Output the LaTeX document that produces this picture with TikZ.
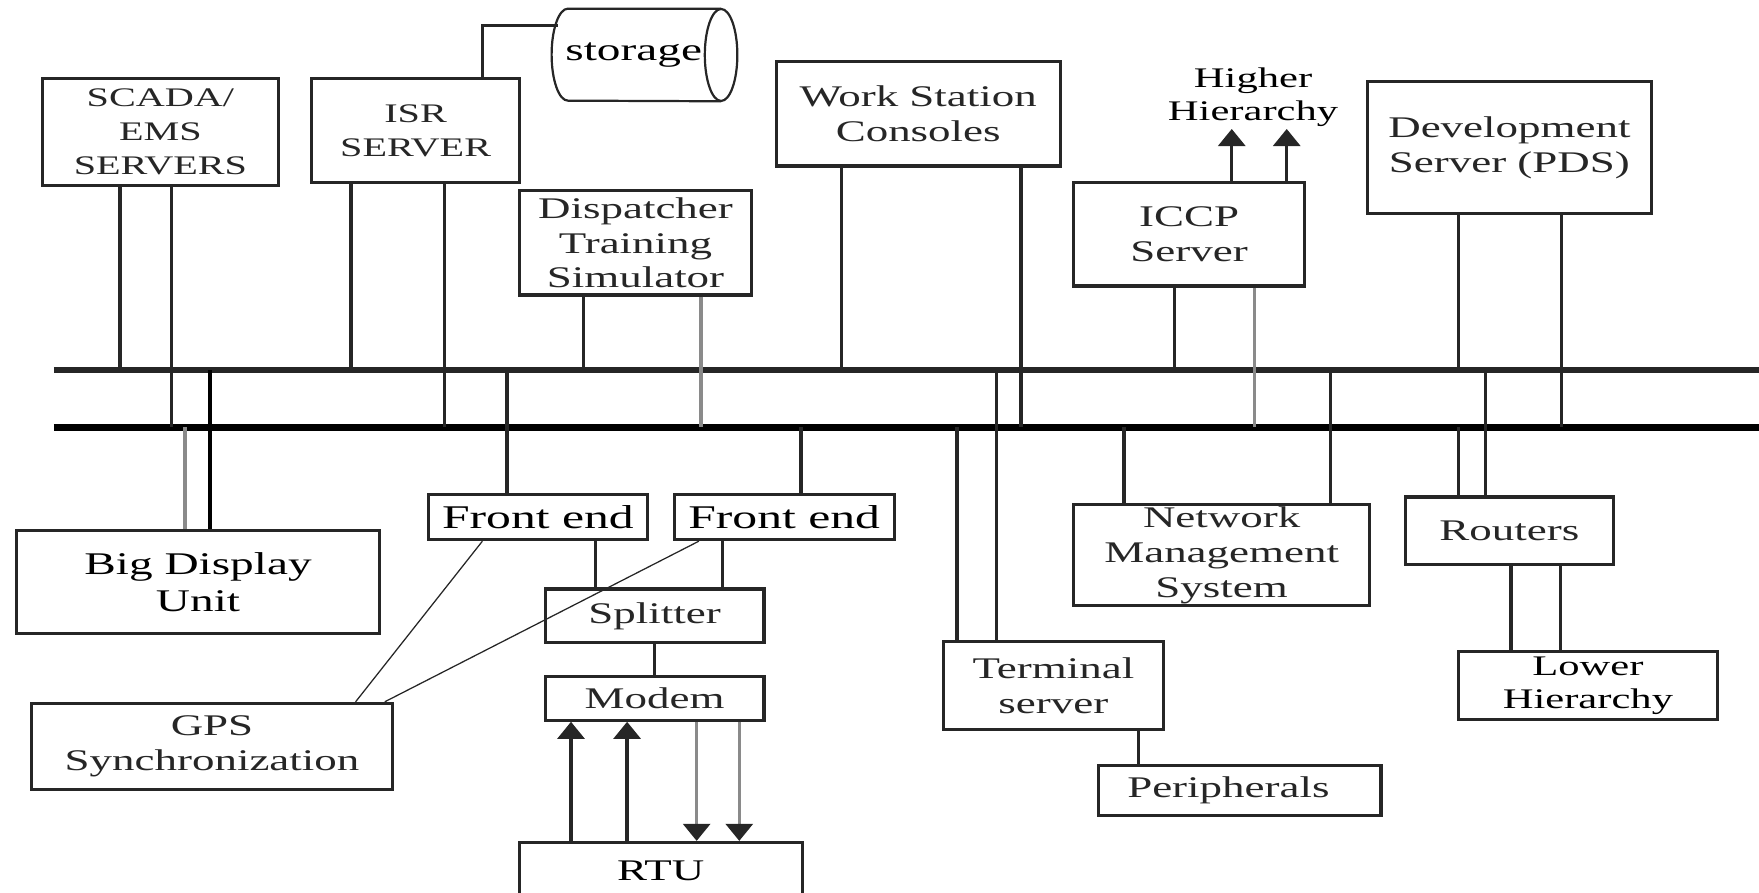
\documentclass[tikz,border=0pt]{standalone}
\usepackage{fontspec}
\setmainfont[FakeStretch=1.5]{Liberation Serif}
\usetikzlibrary{arrows.meta}
\definecolor{ink}{HTML}{262626}
\definecolor{wire}{HTML}{8A8A8A}

\begin{document}
\begin{tikzpicture}[x=0.25mm,y=-0.25mm,
    box/.style={draw=ink, line width=2pt, fill=white, align=center, inner sep=0pt,
        text=ink, font=\fontsize{19}{22}\selectfont},
    capbox/.style={box, font=\fontsize{17}{21.5}\selectfont},
    dark/.style={box, text=black},
    lnk/.style={draw=ink, line width=2.1pt},
    glnk/.style={draw=wire, line width=2.1pt},
    gpslnk/.style={draw=ink, line width=0.8pt},
    cyl/.style={draw=ink, line width=1.4pt},
    bus/.style={draw=black, line width=4pt},
    tip/.style={-{Triangle[width=6mm,length=3.8mm,color=ink]}}]
\useasboundingbox (0,0) rectangle (1568,796);

% boxes above the buses
\node[capbox, minimum width=52.5mm, minimum height=23.75mm] (scada) at (143,117.5) {SCADA/\\EMS\\SERVERS};
\node[capbox, minimum width=46.25mm, minimum height=23.25mm] (isr) at (370.5,116.5) {ISR\\SERVER};
\node[inner sep=0pt, minimum width=41.25mm, minimum height=20.5mm, text=black,
    font=\fontsize{20}{22}\selectfont] (store) at (574.5,49) {storage\hspace*{4.8mm}};
\draw[cyl] ([xshift=-3.625mm]store.east) ellipse [x radius=3.625mm, y radius=10.25mm];
\draw[cyl] ([xshift=-3.625mm]store.north east) -- ([xshift=3.625mm]store.north west)
    arc [start angle=90, end angle=270, x radius=3.625mm, y radius=10.25mm]
    -- ([xshift=-3.625mm]store.south east);
\node[box, minimum width=51.75mm, minimum height=23.25mm] (dts) at (566.5,216.5) {Dispatcher\\Training\\Simulator};
\node[box, minimum width=63.25mm, minimum height=23.25mm] (wsc) at (818.5,101.5) {Work Station\\Consoles};
\node[text=black, align=center, inner sep=1pt, font=\fontsize{18}{21}\selectfont] (hh) at (1117,87) {Higher\\Hierarchy};
\node[box, minimum width=51.5mm, minimum height=23mm] (iccp) at (1060,209) {ICCP\\Server};
\node[box, minimum width=63.25mm, minimum height=29.25mm] (dev) at (1345.5,131.5) {Development\\Server (PDS)};

% boxes below the buses
\node[dark, minimum width=80.75mm, minimum height=23mm, font=\fontsize{20}{23}\selectfont] (bdu) at (176.5,519) {Big Display\\Unit};
\node[dark, minimum width=48.75mm, minimum height=10mm, font=\fontsize{21}{23}\selectfont] (fe1) at (479.5,461) {Front end};
\node[dark, minimum width=49mm, minimum height=10mm, font=\fontsize{21}{23}\selectfont] (fe2) at (699,461) {Front end};
\node[box, minimum width=48.75mm, minimum height=12mm] (split) at (583.5,549) {Splitter};
\node[box, minimum width=48.75mm, minimum height=9.75mm] (modem) at (583.5,622.5) {Modem};
\node[box, minimum width=80.5mm, minimum height=19.25mm] (gps) at (189,665.5) {GPS\\Synchronization};
\node[dark, minimum width=63mm, minimum height=12.5mm] (rtu) at (589,776) {RTU};
\node[box, minimum width=66mm, minimum height=22.5mm] (nms) at (1089,495) {Network\\Management\\System};
\node[box, minimum width=49mm, minimum height=19.5mm] (term) at (939,611) {Terminal\\server};
\node[box, minimum width=63mm, minimum height=11.25mm] (peri) at (1105,704.5) {Peripherals\hspace*{5mm}};
\node[box, minimum width=46.25mm, minimum height=15mm] (rout) at (1345.5,473) {Routers};
\node[dark, minimum width=57.75mm, minimum height=15mm, font=\fontsize{18}{21}\selectfont] (lower) at (1415.5,611) {Lower\\Hierarchy};

% the two buses
\coordinate (busA) at (48,330);
\coordinate (busAe) at (1568,330);
\coordinate (busB) at (48,381);
\coordinate (busBe) at (1568,381);
\draw[bus, draw=ink, line width=3.6pt] (busA) -- (busAe);
\draw[bus, line width=4.4pt] (busB) -- (busBe);

% drops from the upper boxes
\draw[lnk] (scada.south -| 107,0) -- (107,0 |- busA);
\draw[lnk] (scada.south -| 153,0) -- (153,0 |- busB);
\draw[lnk] (isr.south -| 313,0) -- (313,0 |- busA);
\draw[lnk] (isr.south -| 396,0) -- (396,0 |- busB);
\draw[lnk] (dts.south -| 520,0) -- (520,0 |- busA);
\draw[glnk] (dts.south -| 625,0) -- (625,0 |- busB);
\draw[lnk] (wsc.south -| 750,0) -- (750,0 |- busA);
\draw[lnk] (wsc.south -| 910,0) -- (910,0 |- busB);
\draw[lnk] (iccp.south -| 1047,0) -- (1047,0 |- busA);
\draw[glnk] (iccp.south -| 1118,0) -- (1118,0 |- busB);
\draw[lnk] (dev.south -| 1300,0) -- (1300,0 |- busA);
\draw[lnk] (dev.south -| 1392,0) -- (1392,0 |- busB);
\coordinate (stin) at (497,23);
\draw[lnk] (isr.north -| 430,0) |- (stin);
\draw[lnk, tip] (iccp.north -| 1098,0) -- (1098,0 |- hh.south);
\draw[lnk, tip] (iccp.north -| 1147,0) -- (1147,0 |- hh.south);

% drops to the lower boxes
\draw[glnk] (busB -| 165,0) -- (bdu.north -| 165,0);
\draw[draw=black, line width=2.6pt] (busA -| 187,0) -- (bdu.north -| 187,0);
\draw[lnk] (busA -| 452,0) -- (fe1.north -| 452,0);
\draw[lnk] (busB -| 714,0) -- (fe2.north -| 714,0);
\draw[lnk] (busB -| 853,0) -- (term.north -| 853,0);
\draw[lnk] (busA -| 888,0) -- (term.north -| 888,0);
\draw[lnk] (busB -| 1002,0) -- (nms.north -| 1002,0);
\draw[lnk] (busA -| 1186,0) -- (nms.north -| 1186,0);
\draw[lnk] (busB -| 1300,0) -- (rout.north -| 1300,0);
\draw[lnk] (busA -| 1324,0) -- (rout.north -| 1324,0);
\draw[lnk] (rout.south -| 1347,0) -- (lower.north -| 1347,0);
\draw[lnk] (rout.south -| 1391,0) -- (lower.north -| 1391,0);
\draw[lnk] (term.south -| 1015,0) -- (peri.north -| 1015,0);

% front ends, splitter, modem and RTU
\draw[lnk] (fe1.south -| 531,0) -- (split.north -| 531,0);
\draw[lnk] (fe2.south -| 644,0) -- (split.north -| 644,0);
\draw[lnk] (split) -- (modem);
\draw[gpslnk] (gps.north -| 317,0) -- (fe1.south -| 430,0);
\draw[gpslnk] (gps.north -| 343,0) -- (fe2.south -| 623,0);
\draw[lnk, tip] (rtu.north -| 509,0) -- (modem.south -| 509,0);
\draw[lnk, tip] (rtu.north -| 559,0) -- (modem.south -| 559,0);
\draw[glnk, tip] (modem.south -| 621,0) -- (rtu.north -| 621,0);
\draw[glnk, tip] (modem.south -| 659,0) -- (rtu.north -| 659,0);
\end{tikzpicture}
\end{document}
